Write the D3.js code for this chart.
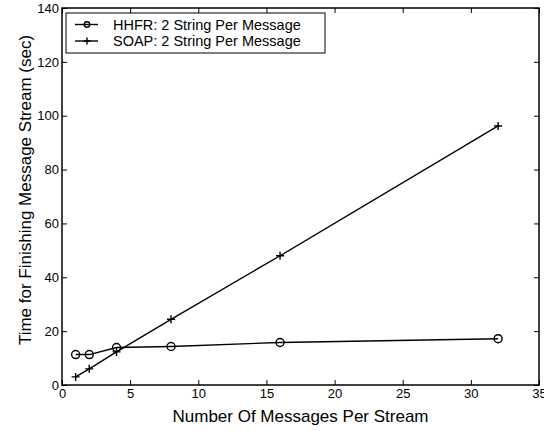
<!DOCTYPE html>
<html>
<head>
<meta charset="utf-8">
<script src="https://cdn.jsdelivr.net/npm/d3@7"></script>
<style>
  body { margin: 0; background: #fff; }
  text { font-family: "Liberation Sans", Arial, sans-serif; fill: #000; }
</style>
</head>
<body>
<div id="graph"></div>
<script>
const messages = [1, 2, 4, 8, 16, 32];
const hhfr = [11.3, 11.3, 13.9, 14.3, 15.8, 17.2];
const soap = [3, 6, 12.3, 24.4, 48, 96.2];
const xTicks = [0, 5, 10, 15, 20, 25, 30, 35];
const yTicks = [0, 20, 40, 60, 80, 100, 120, 140];
const seriesNames = ["HHFR: 2 String Per Message", "SOAP: 2 String Per Message"];

const W = 544, H = 431;
const margin = { top: 8, right: 5, bottom: 46, left: 62 };
const width = W - margin.left - margin.right,
    height = H - margin.top - margin.bottom;

const svg = d3.select("#graph").append("svg")
    .attr("width", W).attr("height", H);
const g = svg.append("g")
    .attr("transform", "translate(" + margin.left + "," + margin.top + ")");

const x = d3.scaleLinear().domain([0, 35]).range([0, width]);
const y = d3.scaleLinear().domain([0, 140]).range([height, 0]);

// axes, ticks pointing inward, on all four sides
const styleAxis = (sel, showText) => {
    sel.select(".domain").remove();
    sel.selectAll(".tick line").attr("stroke", "#000");
    sel.selectAll(".tick text").style("font-size", "13px");
    if (!showText) sel.selectAll(".tick text").remove();
};
g.append("g").attr("transform", "translate(0," + height + ")")
    .call(d3.axisBottom(x).tickValues(xTicks).tickSizeInner(-5).tickSizeOuter(0).tickPadding(4))
    .call(s => styleAxis(s, true));
g.append("g")
    .call(d3.axisTop(x).tickValues(xTicks).tickSizeInner(-5).tickSizeOuter(0))
    .call(s => styleAxis(s, false));
g.append("g")
    .call(d3.axisLeft(y).tickValues(yTicks).tickSizeInner(-5).tickSizeOuter(0).tickPadding(3))
    .call(s => styleAxis(s, true));
g.append("g").attr("transform", "translate(" + width + ",0)")
    .call(d3.axisRight(y).tickValues(yTicks).tickSizeInner(-5).tickSizeOuter(0))
    .call(s => styleAxis(s, false));

g.append("rect").attr("width", width).attr("height", height)
    .attr("fill", "none").attr("stroke", "#000").attr("stroke-width", 1.5);

const line = d3.line().x(d => x(d[0])).y(d => y(d[1]));
const hhfrPts = messages.map((m, i) => [m, hhfr[i]]);
const soapPts = messages.map((m, i) => [m, soap[i]]);

const drawCircle = (sel, cx, cy, r) => sel.append("circle")
    .attr("cx", cx).attr("cy", cy).attr("r", r)
    .attr("fill", "none").attr("stroke", "#000").attr("stroke-width", 1.4);
const drawPlus = (sel, cx, cy, r) => sel.append("path")
    .attr("d", `M${cx - r},${cy}H${cx + r}M${cx},${cy - r}V${cy + r}`)
    .attr("stroke", "#000").attr("stroke-width", 1.4);

g.append("path").datum(hhfrPts).attr("d", line)
    .attr("fill", "none").attr("stroke", "#000").attr("stroke-width", 1.4);
g.append("path").datum(soapPts).attr("d", line)
    .attr("fill", "none").attr("stroke", "#000").attr("stroke-width", 1.4);
hhfrPts.forEach(d => drawCircle(g, x(d[0]), y(d[1]), 4));
soapPts.forEach(d => drawPlus(g, x(d[0]), y(d[1]), 4));

// legend
const lg = g.append("g").attr("transform", "translate(4,5)");
lg.append("rect").attr("width", 259).attr("height", 40)
    .attr("fill", "#fff").attr("stroke", "#000").attr("stroke-width", 1);
seriesNames.forEach((name, i) => {
    const ly = 11.5 + i * 16.5;
    lg.append("line").attr("x1", 9).attr("x2", 32).attr("y1", ly).attr("y2", ly)
        .attr("stroke", "#000").attr("stroke-width", 1.4);
    if (i === 0) drawCircle(lg, 21, ly, 2.7); else drawPlus(lg, 21, ly, 3.5);
    lg.append("text").attr("x", 47).attr("y", ly + 5)
        .style("font-size", "14.5px").text(name);
});

// axis titles
svg.append("text").attr("x", margin.left + x(17.5)).attr("y", 421.5)
    .attr("text-anchor", "middle").style("font-size", "17px")
    .text("Number Of Messages Per Stream");
svg.append("text")
    .attr("transform", `translate(31,190) rotate(-90)`)
    .attr("text-anchor", "middle").style("font-size", "17px")
    .text("Time for Finishing Message Stream (sec)");
</script>
</body>
</html>
